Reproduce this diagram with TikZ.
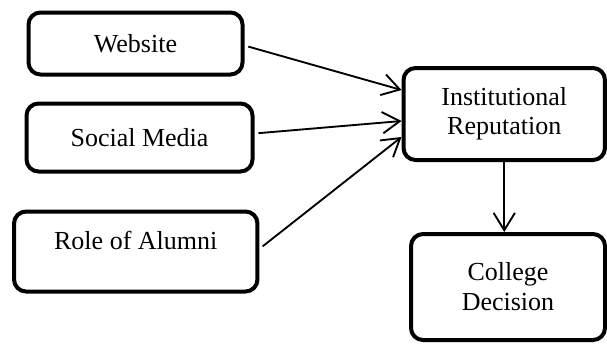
\documentclass[tikz,border=0pt]{standalone}
\usepackage{fontspec}
\setmainfont{Liberation Serif}
\usepackage{tikz}
\usetikzlibrary{arrows.meta, shapes, positioning}
\tikzset{>=latex}
\tikzstyle{line} = [draw, -{Straight Barb[length=13pt, width=16pt, line width=1.4pt]}, line width=1.4pt]
\tikzstyle{block} = [draw, rectangle, rounded corners=9pt, line width=3pt, fill=white, align=center, inner sep=0pt, font=\fontsize{19.5}{21.5}\selectfont]

\begin{document}
\begin{tikzpicture}[x=0.75pt, y=-0.75pt]
                \useasboundingbox (0,0) rectangle (607,344);
                % Create Blocks

                \node [block, minimum width=160.5pt, minimum height=46.5pt] (website) at (135.5,43.5) {Website};
                \node [block, minimum width=169.5pt, minimum height=51pt] (social) at (139.5,137.5) {Social Media};
                \node [block, minimum width=182.6pt, minimum height=60pt, text depth=16pt] (alumni) at (135.75,251.5) {Role of Alumni};

                \node [block, minimum width=151.1pt, minimum height=69pt] (reputation) at (504.25,114) {Institutional\\Reputation};
                \node [block, minimum width=145.5pt, minimum height=79.5pt, font=\fontsize{19.5}{22.5}\selectfont] (decision) at (508,287) {College\\Decision};

                % Add Arrows
                \path [line, shorten <=3pt] ([yshift=-1.5pt]website.east) -- ([yshift=18pt]reputation.west);
                \path [line, shorten <=3pt] ([yshift=3pt]social.east) -- ([yshift=-5.25pt]reputation.west);
                \path [line, shorten <=3pt] ([yshift=2pt]alumni.east) -- ([yshift=-17.25pt]reputation.west);
                \path [line] (reputation.south) -- (decision.north -| reputation.south);
            \end{tikzpicture}
\end{document}
